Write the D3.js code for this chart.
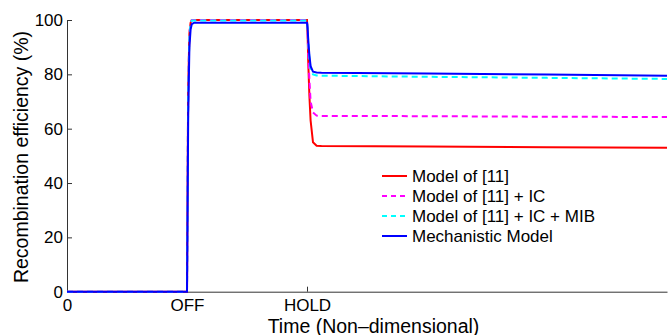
<!DOCTYPE html>
<html>
<head>
<meta charset="utf-8">
<script src="https://cdn.jsdelivr.net/npm/d3@7"></script>
<style>
  body { margin: 0; background: #fff; }
  text { font-family: "Liberation Sans", Arial, sans-serif; fill: #000; }
</style>
</head>
<body>
<div id="chart"></div>
<script>
// sampled time points (OFF = 1, HOLD = 2)
var times = [0, 1, 1.005, 1.01, 1.02, 1.03, 1.04, 1.06, 2, 2.005, 2.01, 2.02, 2.03, 2.05, 2.08, 2.12, 3, 4, 5];

var modelRef   = [0, 0, 40, 75, 95, 99, 100, 100, 100, 95, 85, 72, 63, 55, 53.7, 53.6, 53.4, 53.2, 53.0];
var modelIC    = [0, 0, 40, 75, 95, 99, 100, 100, 100, 96, 88, 78, 70, 66, 64.8, 64.7, 64.6, 64.4, 64.3];
var modelICMIB = [0, 0, 38, 73, 94, 98.8, 99.8, 99.8, 99.8, 97, 92, 86, 82, 80, 79.6, 79.5, 79.1, 78.7, 78.3];
var mechModel  = [0, 0, 30, 65, 90, 96.5, 98.5, 99, 99, 97, 93, 87, 83, 81, 80.7, 80.6, 80.3, 79.9, 79.5];

var xTickVals = [0, 1, 2];
var xTickLabels = ["0", "OFF", "HOLD"];
var yTickVals = [0, 20, 40, 60, 80, 100];

var seriesNames = ["Model of [11]", "Model of [11] + IC", "Model of [11] + IC + MIB", "Mechanistic Model"];
var seriesValues = [modelRef, modelIC, modelICMIB, mechModel];
var seriesColors = ["#ff0000", "#ff00ff", "#00ffff", "#0000ff"];
var seriesDash = [null, "6,4", "6,4", null];

var width = 668, height = 335;
var margin = {left: 67, right: 1, top: 20, bottom: 43.3};

var svg = d3.select("#chart").append("svg")
  .attr("width", width)
  .attr("height", height);

var x = d3.scaleLinear().domain([0, 5]).range([margin.left, width - margin.right]);
var y = d3.scaleLinear().domain([0, 100]).range([height - margin.bottom, margin.top]);

// axes
var xAxis = svg.append("g")
  .attr("transform", "translate(0," + y(0) + ")")
  .call(d3.axisBottom(x).tickValues(xTickVals).tickFormat((d, i) => xTickLabels[i]).tickSizeInner(-5).tickSizeOuter(0));
xAxis.select(".domain").attr("stroke", "#333");
xAxis.selectAll(".tick line").attr("stroke", "#333");
xAxis.selectAll("text").style("font-size", "17px").attr("dy", "0.72em").attr("y", 7);

var yAxis = svg.append("g")
  .attr("transform", "translate(" + x(0) + ",0)")
  .call(d3.axisLeft(y).tickValues(yTickVals).tickSizeInner(-5).tickSizeOuter(0));
yAxis.select(".domain").attr("stroke", "#333");
yAxis.selectAll(".tick line").attr("stroke", "#333");
yAxis.selectAll("text").style("font-size", "17px").attr("x", -4);

// labels
svg.append("text")
  .attr("x", 373.5)
  .attr("y", 332.5)
  .attr("text-anchor", "middle")
  .style("font-size", "19.5px")
  .text("Time (Non\u2013dimensional)");

svg.append("text")
  .attr("transform", "translate(27.5,157) rotate(-90)")
  .attr("text-anchor", "middle")
  .style("font-size", "19.5px")
  .text("Recombination efficiency (%)");

// curves
var line = d3.line()
  .x((d, i) => x(times[i]))
  .y(d => y(d));

seriesValues.forEach(function(vals, i) {
  svg.append("path")
    .datum(vals)
    .attr("d", line)
    .attr("fill", "none")
    .attr("stroke", seriesColors[i])
    .attr("stroke-width", 2)
    .attr("stroke-dasharray", seriesDash[i]);
});

// legend
var legend = svg.append("g").attr("transform", "translate(382,176)");
seriesNames.forEach(function(name, i) {
  var row = legend.append("g").attr("transform", "translate(0," + (i * 20) + ")");
  row.append("line")
    .attr("x1", 0).attr("x2", 25)
    .attr("stroke", seriesColors[i])
    .attr("stroke-width", 2)
    .attr("stroke-dasharray", seriesDash[i] ? "5,4" : null);
  row.append("text")
    .attr("x", 30)
    .attr("dy", "0.36em")
    .style("font-size", "17px")
    .text(name);
});
</script>
</body>
</html>
